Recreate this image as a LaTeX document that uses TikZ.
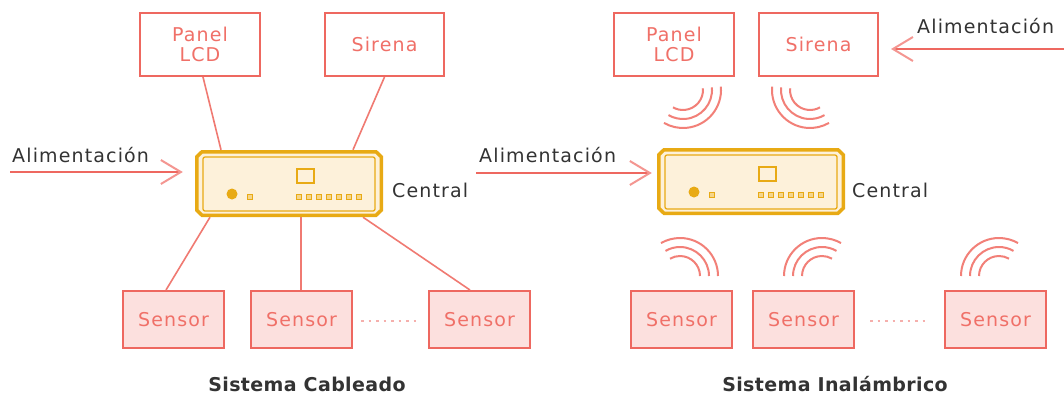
\documentclass[tikz,border=0pt]{standalone}
\usepackage{fontspec}
\setmainfont{DejaVu Sans}[LetterSpace=6]
\newfontfamily\titlefont{DejaVu Sans}[LetterSpace=2]
\usetikzlibrary{arrows.meta}
\definecolor{salmon}{RGB}{238,104,96}
\definecolor{wirec}{RGB}{240,122,114}
\definecolor{salmontext}{RGB}{240,112,104}
\definecolor{sensfill}{RGB}{252,224,222}
\definecolor{gold}{RGB}{232,170,20}
\definecolor{cream}{RGB}{253,241,218}
\definecolor{arcpink}{RGB}{242,128,120}
\definecolor{dotpink}{RGB}{245,175,172}
\definecolor{headpink}{RGB}{244,150,145}
\definecolor{txt}{RGB}{51,51,51}
\newcommand\centraldev[1]{%
  \begin{scope}[shift={(#1.center)}]
    \filldraw[draw=gold, fill=cream, line width=3.5pt, line join=miter]
      (-87,-31.75) -- (87,-31.75) -- (92.25,-26.75) -- (92.25,26.75) -- (87,31.75)
      -- (-87,31.75) -- (-92.25,26.75) -- (-92.25,-26.75) -- cycle;
    \draw[gold, line width=1.3pt, rounded corners=2pt] (-86,-26.5) rectangle (86,27.5);
    \draw[gold, line width=1.4pt] (8,-14.5) rectangle (25,-0.5);
    \fill[gold] (-57,10.5) circle[radius=5.5pt];
    \filldraw[draw=gold, fill=cream!60!gold, line width=0.8pt] (-42,11) rectangle (-37,16);
    \foreach \k in {0,...,6}{
      \filldraw[draw=gold, fill=cream!60!gold, line width=0.8pt] (7.7+10*\k,11) rectangle (12.7+10*\k,16);
    }
  \end{scope}}
\newcommand\waves[4]{%
  \foreach \r in {20,29,38}{
    \draw[wave] (#1,#2) ++(#3:\r) arc[start angle=#3, end angle=#4, radius=\r];
  }}
\begin{document}
\begin{tikzpicture}[x=1pt,y=-1pt,
  font=\fontsize{19}{20.5}\selectfont,
  dev/.style={draw=salmon, line width=2pt, fill=white, text=salmontext, inner sep=0pt, minimum height=63pt, align=center},
  sens/.style={draw=salmon, line width=2pt, fill=sensfill, text=salmontext, inner sep=0pt, minimum width=101pt, minimum height=57pt},
  cbox/.style={inner sep=0pt, minimum width=188pt, minimum height=67pt},
  wire/.style={draw=wirec, line width=1.6pt},
  feed/.style={draw=salmon, line width=2pt, -{Straight Barb[length=20pt,width=24pt,line width=2pt,color=headpink]}},
  lbl/.style={text=txt, inner sep=0pt, anchor=base west},
  wave/.style={draw=arcpink, line width=2pt},
  dots/.style={draw=dotpink, line width=2.5pt, dash pattern=on 2.5pt off 5pt},
  title/.style={text=txt, inner sep=0pt, anchor=base, font=\titlefont\bfseries\fontsize{19}{22}\selectfont}
]
\path[use as bounding box, fill=white] (0,0) rectangle (1064,394);

% ---------- Sistema Cableado ----------
\node[dev, minimum width=120pt] (lcdL) at (200,44.5) {Panel\\LCD};
\node[dev, minimum width=119pt] (sirL) at (384.5,44.5) {Sirena};
\node[cbox] (cenL) at (289,183.5) {};
\node[sens] (s1L) at (173.5,319.5) {Sensor};
\node[sens] (s2L) at (301.5,319.5) {Sensor};
\node[sens] (s3L) at (479.5,319.5) {Sensor};

\draw[wire] ([xshift=3pt]lcdL.south) -- ([xshift=-68pt]cenL.north);
\draw[wire] (sirL.south) -- ([xshift=64pt]cenL.north);
\draw[wire] ([xshift=-79pt]cenL.south) -- ([xshift=-7.5pt]s1L.north);
\draw[wire] ([xshift=12pt]cenL.south) -- ([xshift=-0.5pt]s2L.north);
\draw[wire] ([xshift=74pt]cenL.south) -- ([xshift=-9.5pt]s3L.north);
\centraldev{cenL}
\draw[dots] ([xshift=8pt,yshift=-1.5pt]s2L.east) -- ([xshift=-9pt,yshift=-1.5pt]s3L.west);

\coordinate (pL) at (10,172);
\draw[feed, shorten >=12pt] (pL) -- (pL -| cenL.west);
\node[lbl] (aL) at (12,162) {Alimentación};
\node[lbl] (cL) at (392,197) {Central};
\node[title] (tL) at (307,391) {Sistema Cableado};

% ---------- Sistema Inalambrico ----------
\node[dev, minimum width=120pt] (lcdR) at (674,44.5) {Panel\\LCD};
\node[dev, minimum width=119pt] (sirR) at (818.5,44.5) {Sirena};
\node[cbox] (cenR) at (751,181.5) {};
\node[sens] (s1R) at (681.5,319.5) {Sensor};
\node[sens] (s2R) at (803.5,319.5) {Sensor};
\node[sens] (s3R) at (995.5,319.5) {Sensor};
\centraldev{cenR}
\draw[dots] ([xshift=15pt,yshift=-1.5pt]s2R.east) -- ([xshift=-16pt,yshift=-1.5pt]s3R.west);

\waves{683}{90}{-5}{120}
\waves{810}{90}{185}{60}
\waves{680}{276}{0}{-120}
\waves{822}{276}{180}{300}
\waves{999}{276}{180}{300}

\coordinate (pR) at (476,173);
\draw[feed, shorten >=5pt] (pR) -- (pR -| cenR.west);
\coordinate (pT) at (1064,49);
\draw[feed, shorten >=12pt] (pT) -- (pT -| sirR.east);
\node[lbl] (aR) at (479,162) {Alimentación};
\node[lbl] (aT) at (917,33) {Alimentación};
\node[lbl] (cR) at (852,197) {Central};
\node[title] (tR) at (835,391) {Sistema Inalámbrico};
\end{tikzpicture}
\end{document}
